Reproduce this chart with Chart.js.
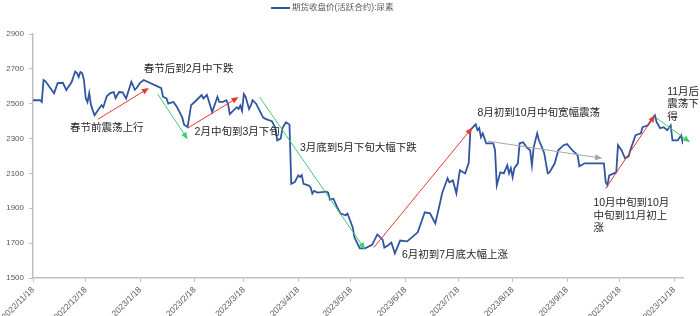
<!DOCTYPE html>
<html>
<head>
<meta charset="utf-8">
<script src="https://cdn.jsdelivr.net/npm/chart.js@4.4.0/dist/chart.umd.min.js"></script>
<style>
body { margin: 0; background: #ffffff; }
#chart-container { width: 700px; height: 316px; }
</style>
</head>
<body>
<div id="chart-container"><canvas id="myChart" width="700" height="316"></canvas></div>
<script>
var seriesName = "期货收盘价(活跃合约):尿素"
var startDate = "2022-11-18"
var endDate = "2023-11-23"

var dates = [
    "2022-11-18", "2022-11-22", "2022-11-23", "2022-11-24", "2022-11-25", "2022-11-30",
    "2022-12-02", "2022-12-05", "2022-12-07", "2022-12-08", "2022-12-10", "2022-12-12",
    "2022-12-13", "2022-12-14", "2022-12-15", "2022-12-16", "2022-12-17", "2022-12-18",
    "2022-12-19", "2022-12-20", "2022-12-21", "2022-12-23", "2022-12-25", "2022-12-27",
    "2022-12-28", "2022-12-30", "2023-01-01", "2023-01-03", "2023-01-04", "2023-01-06",
    "2023-01-08", "2023-01-10", "2023-01-13", "2023-01-15", "2023-01-16", "2023-01-18",
    "2023-01-20", "2023-01-30", "2023-01-31", "2023-02-02", "2023-02-03", "2023-02-06",
    "2023-02-08", "2023-02-11", "2023-02-12", "2023-02-14", "2023-02-16", "2023-02-18",
    "2023-02-21", "2023-02-22", "2023-02-23", "2023-02-25", "2023-02-28", "2023-03-03",
    "2023-03-04", "2023-03-06", "2023-03-08", "2023-03-09", "2023-03-10", "2023-03-12",
    "2023-03-14", "2023-03-15", "2023-03-16", "2023-03-17", "2023-03-18", "2023-03-19",
    "2023-03-21", "2023-03-22", "2023-03-23", "2023-03-25", "2023-03-27", "2023-03-29",
    "2023-03-31", "2023-04-03", "2023-04-05", "2023-04-06", "2023-04-08", "2023-04-09",
    "2023-04-11", "2023-04-13", "2023-04-14", "2023-04-16", "2023-04-18", "2023-04-19",
    "2023-04-20", "2023-04-21", "2023-04-24", "2023-04-25", "2023-04-26", "2023-04-27",
    "2023-04-29", "2023-05-04", "2023-05-05", "2023-05-06", "2023-05-08", "2023-05-10",
    "2023-05-12", "2023-05-15", "2023-05-16", "2023-05-19", "2023-05-20", "2023-05-23",
    "2023-05-26", "2023-05-30", "2023-06-02", "2023-06-05", "2023-06-06", "2023-06-08",
    "2023-06-10", "2023-06-12", "2023-06-15", "2023-06-19", "2023-06-25", "2023-06-29",
    "2023-07-02", "2023-07-05", "2023-07-07", "2023-07-09", "2023-07-12", "2023-07-13",
    "2023-07-15", "2023-07-17", "2023-07-19", "2023-07-22", "2023-07-24", "2023-07-25",
    "2023-07-28", "2023-07-29", "2023-07-30", "2023-07-31", "2023-08-01", "2023-08-03",
    "2023-08-07", "2023-08-08", "2023-08-09", "2023-08-11", "2023-08-13", "2023-08-15",
    "2023-08-16", "2023-08-17", "2023-08-18", "2023-08-19", "2023-08-21", "2023-08-22",
    "2023-08-24", "2023-08-26", "2023-08-28", "2023-08-29", "2023-08-30", "2023-09-01",
    "2023-09-02", "2023-09-04", "2023-09-05", "2023-09-07", "2023-09-08", "2023-09-11",
    "2023-09-13", "2023-09-16", "2023-09-18", "2023-09-21", "2023-09-24", "2023-09-25",
    "2023-09-28", "2023-10-09", "2023-10-10", "2023-10-11", "2023-10-12", "2023-10-16",
    "2023-10-17", "2023-10-19", "2023-10-21", "2023-10-23", "2023-10-24", "2023-10-27",
    "2023-10-30", "2023-10-31", "2023-11-03", "2023-11-06", "2023-11-07", "2023-11-08",
    "2023-11-10", "2023-11-12", "2023-11-14", "2023-11-16", "2023-11-17", "2023-11-20",
    "2023-11-22", "2023-11-23"
]

var prices = [
    2520, 2520, 2510, 2636, 2630, 2560,
    2618, 2620, 2578, 2595, 2624, 2685,
    2676, 2653, 2682, 2676, 2636, 2532,
    2509, 2561, 2492, 2434, 2463, 2492,
    2480, 2543, 2561, 2567, 2532, 2567,
    2565, 2530, 2626, 2580, 2590, 2620,
    2636, 2589, 2540, 2530, 2500, 2510,
    2480, 2420, 2380, 2366, 2492, 2510,
    2540, 2550, 2530, 2550, 2452, 2540,
    2510, 2510, 2520, 2500, 2440, 2460,
    2480, 2470, 2490, 2460, 2555, 2540,
    2470, 2490, 2520, 2500, 2460, 2420,
    2410, 2400, 2360, 2290, 2300, 2360,
    2394, 2380, 2040, 2050, 2089, 2080,
    2090, 2040, 2030, 2020, 1984, 2000,
    1990, 1995, 1990, 1950, 1955, 1910,
    1870, 1860, 1870, 1790, 1733, 1670,
    1670, 1690, 1750, 1720, 1675, 1687,
    1704, 1641, 1715, 1710, 1762, 1877,
    1871, 1813, 1900, 1991, 2072, 2049,
    2060, 1986, 2118, 2100, 2160, 2350,
    2382, 2348, 2360, 2308, 2330, 2273,
    2273, 2233, 2032, 2106, 2100, 2147,
    2100, 2130, 2078, 2130, 2158, 2273,
    2279, 2250, 2233, 2147, 2250, 2330,
    2290, 2244, 2216, 2100, 2106, 2158,
    2233, 2262, 2268, 2233, 2204, 2141,
    2158, 2158, 2049, 2032, 2089, 2106,
    2262, 2233, 2187, 2198, 2233, 2319,
    2330, 2365, 2376, 2422, 2434, 2394,
    2359, 2365, 2348, 2376, 2290, 2290,
    2319, 2268
]

var tickLabels = [
    "2022/11/18", "2022/12/18", "2023/1/18", "2023/2/18", "2023/3/18", "2023/4/18",
    "2023/5/18", "2023/6/18", "2023/7/18", "2023/8/18", "2023/9/18", "2023/10/18", "2023/11/18"
]
var yTicks = [1500, 1700, 1900, 2100, 2300, 2500, 2700, 2900]

// trend arrows: start point, end point (date, price)
var arrowStarts = [
    ["2022-12-25", 2411], ["2023-01-28", 2555], ["2023-02-14", 2360], ["2023-03-27", 2538],
    ["2023-05-31", 1675], ["2023-08-04", 2285], ["2023-10-10", 2014], ["2023-11-08", 2417]
]
var arrowEnds = [
    ["2023-01-23", 2590], ["2023-02-14", 2296], ["2023-03-15", 2538], ["2023-05-26", 1664],
    ["2023-07-26", 2362], ["2023-10-08", 2187], ["2023-11-07", 2434], ["2023-11-27", 2279]
]
var arrowColors = ["#e53a30", "#3fcc6e", "#e53a30", "#3fcc6e", "#e53a30", "#a6a6a6", "#e53a30", "#3fcc6e"]

var noteTexts = [
    ["春节前震荡上行"],
    ["春节后到2月中下跌"],
    ["2月中旬到3月下旬"],
    ["3月底到5月下旬大幅下跌"],
    ["6月初到7月底大幅上涨"],
    ["8月初到10月中旬宽幅震荡"],
    ["10月中旬到10月", "中旬到11月初上", "涨"],
    ["11月后", "震荡下", "得"]
]
var notePlaces = [
    ["2022-12-09", 2360], ["2023-01-20", 2699], ["2023-02-18", 2336], ["2023-04-19", 2244],
    ["2023-06-16", 1629], ["2023-07-29", 2446], ["2023-10-03", 1928], ["2023-11-14", 2567]
]

var textFont = '10.5px "Liberation Sans", "Noto Sans CJK SC", sans-serif'
var smallFont = '"Liberation Sans", "Noto Sans CJK SC", sans-serif'

function dayOf(str) {
    var p = str.split(/[-\/]/)
    var s = startDate.split("-")
    return (Date.UTC(+p[0], +p[1] - 1, +p[2]) - Date.UTC(+s[0], +s[1] - 1, +s[2])) / 86400000
}

function buildPoints() {
    var points = []
    for (var i = 0; i < dates.length; i++) {
        points.push({ x: dayOf(dates[i]), y: prices[i] })
    }
    return points
}

function drawArrow(ctx, x1, y1, x2, y2, color) {
    var angle = Math.atan2(y2 - y1, x2 - x1)
    var headLen = 7
    var headWidth = 3
    ctx.strokeStyle = color
    ctx.fillStyle = color
    ctx.lineWidth = 1
    ctx.beginPath()
    ctx.moveTo(x1, y1)
    ctx.lineTo(x2 - Math.cos(angle) * headLen * 0.8, y2 - Math.sin(angle) * headLen * 0.8)
    ctx.stroke()
    ctx.beginPath()
    ctx.moveTo(x2, y2)
    ctx.lineTo(x2 - Math.cos(angle) * headLen - Math.sin(angle) * headWidth, y2 - Math.sin(angle) * headLen + Math.cos(angle) * headWidth)
    ctx.lineTo(x2 - Math.cos(angle) * headLen + Math.sin(angle) * headWidth, y2 - Math.sin(angle) * headLen - Math.cos(angle) * headWidth)
    ctx.closePath()
    ctx.fill()
}

var notesPlugin = {
    id: "notes",
    afterDatasetsDraw: function (chart) {
        var ctx = chart.ctx
        var xs = chart.scales.x
        var ys = chart.scales.y
        ctx.save()
        for (var i = 0; i < arrowStarts.length; i++) {
            drawArrow(ctx,
                xs.getPixelForValue(dayOf(arrowStarts[i][0])), ys.getPixelForValue(arrowStarts[i][1]),
                xs.getPixelForValue(dayOf(arrowEnds[i][0])), ys.getPixelForValue(arrowEnds[i][1]),
                arrowColors[i])
        }
        ctx.font = textFont
        ctx.fillStyle = "#262626"
        ctx.textBaseline = "middle"
        ctx.textAlign = "left"
        for (var j = 0; j < noteTexts.length; j++) {
            var nx = xs.getPixelForValue(dayOf(notePlaces[j][0]))
            var ny = ys.getPixelForValue(notePlaces[j][1])
            for (var k = 0; k < noteTexts[j].length; k++) {
                ctx.fillText(noteTexts[j][k], nx, ny + k * 12.5)
            }
        }

        // legend
        ctx.strokeStyle = "#3155a0"
        ctx.lineWidth = 2
        ctx.beginPath()
        ctx.moveTo(271, 8)
        ctx.lineTo(290, 8)
        ctx.stroke()
        ctx.font = "8.5px " + smallFont
        ctx.fillStyle = "#595959"
        ctx.fillText(seriesName, 292, 8)
        ctx.restore()
    }
}

function createGraph() {
    var ctx = document.getElementById("myChart")
    var myChart = new Chart(ctx, {
        type: "line",
        data: {
            datasets: [{
                label: seriesName,
                data: buildPoints(),
                borderColor: "#3155a0",
                borderWidth: 1.8,
                pointRadius: 0,
                tension: 0,
                fill: false
            }]
        },
        options: {
            responsive: false,
            animation: false,
            layout: { padding: { top: 34, right: 17, left: 0, bottom: 0 } },
            scales: {
                x: {
                    type: "linear",
                    min: dayOf(startDate),
                    max: dayOf(endDate),
                    afterBuildTicks: function (scale) {
                        scale.ticks = tickLabels.map(function (t) { return { value: dayOf(t) } })
                    },
                    afterFit: function (scale) { scale.height = 38 },
                    ticks: {
                        autoSkip: false,
                        maxRotation: 45,
                        minRotation: 45,
                        padding: 3,
                        color: "#595959",
                        font: { size: 8.5, family: smallFont },
                        callback: function (value, index) { return tickLabels[index] }
                    },
                    grid: { display: true, drawOnChartArea: false, drawTicks: true, tickLength: 4, color: "#bfbfbf" },
                    border: { display: true, color: "#bfbfbf", width: 1.5 }
                },
                y: {
                    min: 1500,
                    max: 2900,
                    afterBuildTicks: function (scale) {
                        scale.ticks = yTicks.map(function (v) { return { value: v } })
                    },
                    afterFit: function (scale) { scale.width = 33 },
                    ticks: {
                        padding: 5,
                        color: "#595959",
                        font: { size: 8, family: smallFont },
                        callback: function (value) { return String(value) }
                    },
                    grid: { display: true, drawOnChartArea: false, drawTicks: true, tickLength: 4, color: "#bfbfbf" },
                    border: { display: true, color: "#bfbfbf", width: 1.5 }
                }
            },
            plugins: {
                legend: { display: false },
                tooltip: { enabled: false }
            }
        },
        plugins: [notesPlugin]
    })
}

createGraph()
</script>
</body>
</html>
